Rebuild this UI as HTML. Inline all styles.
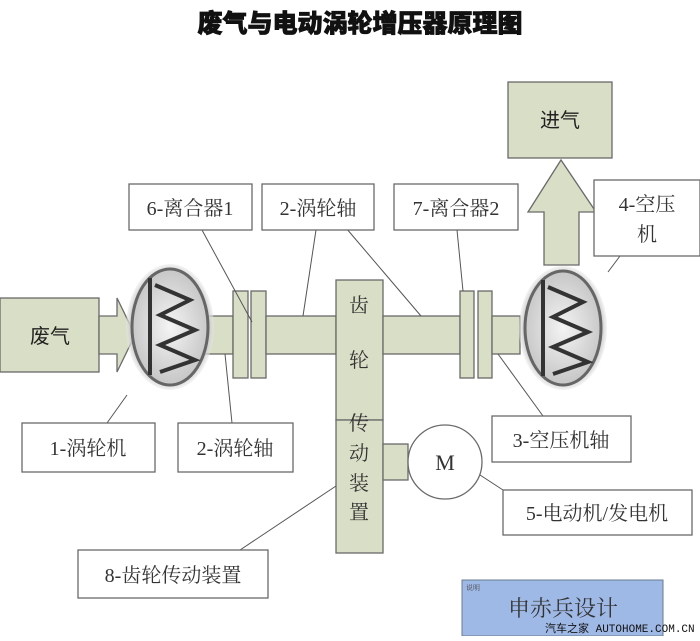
<!DOCTYPE html>
<html><head><meta charset="utf-8"><style>
body{margin:0;width:700px;height:636px;overflow:hidden;background:#fff}
svg text{font-family:"Liberation Serif","Noto Serif CJK SC",serif;fill:#333}
</style></head><body>
<svg width="700" height="636" viewBox="0 0 700 636" xmlns="http://www.w3.org/2000/svg">
<defs>
<radialGradient id="g" cx="50%" cy="50%" r="55%"><stop offset="0" stop-color="#f4f4f4"/><stop offset="0.8" stop-color="#c8c8c8"/><stop offset="1" stop-color="#fff" stop-opacity="0"/></radialGradient>
</defs>
<text x="360" y="32" text-anchor="middle" style="font-family:'Liberation Sans','Noto Sans CJK SC',sans-serif;font-weight:900;font-size:25px;fill:#111;stroke:#111;stroke-width:0.8">废气与电动涡轮增压器原理图</text>
<g fill="#d9dfc6" stroke="#6a6a6a" stroke-width="1.3">
<rect x="508" y="82" width="104" height="76"/>
<path d="M544 265 V212 H528 L561 160 L596 212 H579 V265 Z"/>
<rect x="0" y="298" width="99" height="74"/>
<path d="M99 316 H117 V298 L135 335 L117 372 V354 H99 Z"/>
<rect x="205" y="316" width="28" height="38"/>
<rect x="233" y="291" width="15" height="87"/>
<rect x="251" y="291" width="15" height="87"/>
<rect x="266" y="316" width="70" height="38"/>
<rect x="336" y="280" width="47" height="140"/>
<rect x="336" y="420" width="47" height="133"/>
<rect x="383" y="316" width="77" height="38"/>
<rect x="460" y="291" width="14" height="87"/>
<rect x="478" y="291" width="14" height="87"/>
<rect x="492" y="316" width="28" height="38"/>
<rect x="383" y="444" width="25" height="36"/>
</g>
<g>
<ellipse cx="170" cy="327" rx="44" ry="63" fill="url(#g)"/>
<ellipse cx="170" cy="327" rx="38" ry="58" fill="none" stroke="#666" stroke-width="3"/>
<path d="M150 278 V375 M155 285 L190 300 L160 315 L195 330 L160 345 L195 360 L160 372" fill="none" stroke="#333" stroke-width="4"/>
<ellipse cx="563" cy="328" rx="44" ry="62" fill="url(#g)"/>
<ellipse cx="563" cy="328" rx="38" ry="57" fill="none" stroke="#666" stroke-width="3"/>
<path d="M543 280 V376 M548 287 L583 302 L553 317 L588 332 L553 347 L588 362 L553 374" fill="none" stroke="#333" stroke-width="4"/>
</g>
<circle cx="445" cy="462" r="37" fill="#fff" stroke="#6a6a6a" stroke-width="1.3"/>
<g stroke="#555" stroke-width="1" fill="none">
<line x1="202" y1="230" x2="252" y2="322"/>
<line x1="316" y1="230" x2="303" y2="316"/>
<line x1="346" y1="228" x2="421" y2="316"/>
<line x1="457" y1="230" x2="463" y2="291"/>
<line x1="620" y1="256" x2="608" y2="272"/>
<line x1="127" y1="395" x2="107" y2="423"/>
<line x1="225" y1="354" x2="232" y2="423"/>
<line x1="498" y1="354" x2="543" y2="416"/>
<line x1="480" y1="475" x2="503" y2="490"/>
<line x1="336" y1="486" x2="240" y2="550"/>
</g>
<g fill="#fff" stroke="#6a6a6a" stroke-width="1.3">
<rect x="129" y="184" width="123" height="46"/>
<rect x="262" y="184" width="112" height="46"/>
<rect x="394" y="184" width="124" height="46"/>
<rect x="594" y="180" width="106" height="76"/>
<rect x="22" y="423" width="133" height="49"/>
<rect x="178" y="423" width="115" height="49"/>
<rect x="492" y="416" width="139" height="46"/>
<rect x="503" y="490" width="189" height="45"/>
<rect x="78" y="550" width="190" height="48"/>
</g>
<g font-size="20">
<text x="560" y="127" text-anchor="middle" style="font-family:'Liberation Sans','Noto Sans CJK SC',sans-serif;fill:#222">进气</text>
<text x="50" y="343" text-anchor="middle" style="font-family:'Liberation Sans','Noto Sans CJK SC',sans-serif;fill:#222">废气</text>
<text x="190" y="215" text-anchor="middle">6-离合器1</text>
<text x="318" y="215" text-anchor="middle">2-涡轮轴</text>
<text x="456" y="215" text-anchor="middle">7-离合器2</text>
<text x="647" y="211" text-anchor="middle">4-空压</text>
<text x="647" y="241" text-anchor="middle">机</text>
<text x="88" y="455" text-anchor="middle">1-涡轮机</text>
<text x="235" y="455" text-anchor="middle">2-涡轮轴</text>
<text x="561" y="447" text-anchor="middle">3-空压机轴</text>
<text x="597" y="520" text-anchor="middle">5-电动机/发电机</text>
<text x="173" y="582" text-anchor="middle">8-齿轮传动装置</text>
<text x="359" y="312" text-anchor="middle">齿</text>
<text x="359" y="367" text-anchor="middle">轮</text>
<text x="359" y="430" text-anchor="middle">传</text>
<text x="359" y="460" text-anchor="middle">动</text>
<text x="359" y="490" text-anchor="middle">装</text>
<text x="359" y="519" text-anchor="middle">置</text>
<text x="445" y="470" text-anchor="middle" font-size="22">M</text>
</g>
<rect x="462" y="580" width="201" height="56" fill="#9fb9e6" stroke="#6a7a90"/>
<text x="466" y="590" font-size="7" style="fill:#444">说明</text>
<text x="563" y="616" text-anchor="middle" font-size="22" style="fill:#333">申赤兵设计</text>
<text x="545" y="632" font-size="11" style="font-family:'Liberation Mono','Noto Sans CJK SC',monospace;fill:#111">汽车之家 AUTOHOME.COM.CN</text>
</svg>
</body></html>
